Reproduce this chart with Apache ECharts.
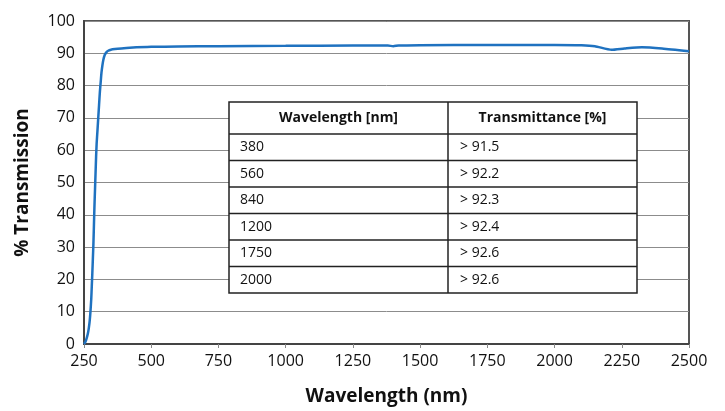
<!DOCTYPE html>
<html><head><meta charset="utf-8">
<script src="https://cdn.jsdelivr.net/npm/echarts@6/dist/echarts.min.js"></script>
<style>html,body{margin:0;padding:0;background:#fff}#c{width:725px;height:411px}</style>
</head><body><div id="c"></div>
<script>
// Spectrum
var wavelengths = [250,255,260,265,268,271,274,277,279,281,283,285,287,289,291,293,295,297,300,303,306,309,312,315,318,322,327,333,340,350,365,389,420,500,600,750,1000,1250,1380,1400,1420,1500,1750,2000,2100,2150,2212,2260,2325,2400,2500];
var transmission = [0,0.6,1.8,3.5,5,7,10,14,18,22,26.5,31,37,43,48,53,58,62,66,70,74,78,81,84,86,88,89.5,90.3,90.8,91.1,91.3,91.5,91.7,92.0,92.1,92.2,92.3,92.4,92.4,92.2,92.4,92.5,92.6,92.6,92.5,92.2,91.1,91.5,91.9,91.5,90.6];
// Table contents
var tableHeader = ['Wavelength [nm]', 'Transmittance [%]'];
var tableWavelengths = ['380','560','840','1200','1750','2000'];
var tableTransmittance = ['> 91.5','> 92.2','> 92.3','> 92.4','> 92.6','> 92.6'];

var chart = echarts.init(document.getElementById('c'), null, {renderer:'canvas'});
var font = 'Open Sans, Liberation Sans, sans-serif';

var tx0 = 229, tx1 = 637, tcol = 448, ty0 = 102, thead = 32, trow = 26.5;
var g = [];
var tH = thead + trow * tableWavelengths.length;
g.push({type:'rect', shape:{x:tx0,y:ty0,width:tx1-tx0,height:tH}, style:{fill:'#fff', stroke:'#222', lineWidth:1.5}, z:100});
g.push({type:'line', shape:{x1:tcol,y1:ty0,x2:tcol,y2:ty0+tH}, style:{stroke:'#222', lineWidth:1.5}, z:101});
for (var i = 0; i < tableWavelengths.length; i++) {
  var yl = ty0 + thead + trow * i;
  g.push({type:'line', shape:{x1:tx0,y1:yl,x2:tx1,y2:yl}, style:{stroke:'#222', lineWidth:1.5}, z:101});
  var yc = yl + trow/2;
  g.push({type:'text', x:tx0+11, y:yc, style:{text:tableWavelengths[i], font:'14px '+font, fill:'#111', textVerticalAlign:'middle', verticalAlign:'middle'}, z:102});
  g.push({type:'text', x:tcol+12, y:yc, style:{text:tableTransmittance[i], font:'14px '+font, fill:'#111', textVerticalAlign:'middle', verticalAlign:'middle'}, z:102});
}
g.push({type:'text', x:(tx0+tcol)/2, y:ty0+thead/2, style:{text:tableHeader[0], font:'bold 14px '+font, fill:'#111', align:'center', textAlign:'center', verticalAlign:'middle', textVerticalAlign:'middle'}, z:102});
g.push({type:'text', x:(tcol+tx1)/2, y:ty0+thead/2, style:{text:tableHeader[1], font:'bold 14px '+font, fill:'#111', align:'center', textAlign:'center', verticalAlign:'middle', textVerticalAlign:'middle'}, z:102});

chart.setOption({
  animation:false,
  backgroundColor:'#fff',
  grid:{left:84, right:36, top:21, bottom:65, show:true, borderColor:'#555', borderWidth:2, containLabel:false},
  xAxis:{type:'value', min:250, max:2500, interval:250,
    name:'Wavelength (nm)', nameLocation:'middle', nameGap:43,
    nameTextStyle:{fontFamily:font, fontWeight:'bold', fontSize:19, color:'#111'},
    axisLine:{show:true, lineStyle:{color:'#444', width:2}},
    axisTick:{show:true, length:4, lineStyle:{color:'#888'}},
    axisLabel:{fontFamily:font, fontSize:16, color:'#111', margin:9, formatter:function(v){return String(v);}},
    splitLine:{show:false}},
  yAxis:{type:'value', min:0, max:100, interval:10,
    name:'% Transmission', nameLocation:'middle', nameGap:52,
    nameTextStyle:{fontFamily:font, fontWeight:'bold', fontSize:19, color:'#111'},
    axisLine:{show:true, lineStyle:{color:'#444', width:2}},
    axisTick:{show:false},
    axisLabel:{fontFamily:font, fontSize:16, color:'#111', margin:9},
    splitLine:{show:true, lineStyle:{color:'#8c8c8c', width:1}}},
  series:[{type:'line', data:wavelengths.map(function(w,i){return [w, transmission[i]];}),
    showSymbol:false, smooth:0.2,
    lineStyle:{color:'#1f72c0', width:2.5}, z:5}],
  graphic:g
});
</script></body></html>
